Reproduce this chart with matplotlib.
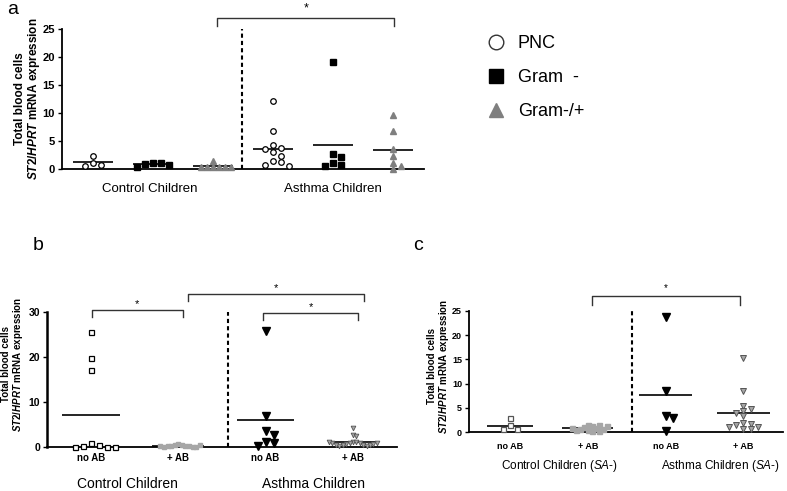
import numpy as np
import matplotlib
matplotlib.use("Agg")
import matplotlib.pyplot as plt
from matplotlib.lines import Line2D

plt.rcParams["font.family"] = ["Liberation Sans", "DejaVu Sans"]
plt.rcParams["mathtext.fontset"] = "custom"
plt.rcParams["mathtext.rm"] = "Liberation Sans:bold"
plt.rcParams["mathtext.it"] = "Liberation Sans:bold:italic"
plt.rcParams["mathtext.bf"] = "Liberation Sans:bold"
plt.rcParams["mathtext.sf"] = "Liberation Sans:italic"

# ---- data ----
# panel a : Control children / Asthma children, by bacteria type
a_ctrl_pnc = [2.3, 1.1, 0.8, 0.5]
a_ctrl_gneg = [1.1, 1.1, 0.85, 0.8, 0.3]
a_ctrl_gmix = [1.5, 0.4, 0.4, 0.4, 0.4, 0.4, 0.4]
a_asth_pnc = [12.1, 6.8, 4.2, 3.8, 3.5, 3.1, 2.4, 1.4, 1.2, 0.8, 0.5]
a_asth_gneg = [19.1, 2.6, 2.1, 1.1, 0.8, 0.5]
a_asth_gmix = [9.6, 6.8, 3.5, 2.3, 1.0, 0.5, 0.0]

# panel b : no AB / + AB
b_ctrl_noab = [25.6, 19.8, 17.1, 1.0, 0.4, 0.2, 0.1, 0.1, 0.1]
b_ctrl_ab = [0.6, 0.5, 0.4, 0.3, 0.3, 0.2, 0.2, 0.1, 0.1, 0.1, 0.2, 0.4]
b_asth_noab = [25.8, 6.9, 3.6, 2.7, 1.2, 1.0, 0.2]
b_asth_ab = [4.3, 2.6, 2.4, 1.2, 1.1, 1.0, 0.8, 0.6, 0.5, 0.4, 0.3, 0.3,
             0.4, 0.5, 0.6, 0.8, 1.0, 1.2]

# panel c : SA- subgroup
c_ctrl_noab = [2.8, 1.4, 0.55, 0.55]
c_ctrl_ab = [1.5, 1.3, 1.1, 0.9, 0.6, 0.4, 0.3, 0.3, 0.4, 0.6, 0.9, 1.2, 1.5]
c_asth_noab = [23.8, 8.5, 3.3, 2.8, 0.2]
c_asth_ab = [15.2, 8.5, 5.4, 4.75, 4.4, 4.0, 3.4, 1.9, 1.6, 1.4, 1.1, 1.1, 0.6, 0.6]

tick_labels_bc = ["no AB", "+ AB", "no AB", "+ AB"]

W, H = 787, 491
GREY = "#7f7f7f"
LGREY = "#a6a6a6"


def px(x, y):
    return x / W, 1 - y / H


def swarm(vals, step, gap):
    # simple grid beeswarm: offsets in units of `step`
    placed, offs = [], []
    for v in vals:
        k = 0
        pos = None
        while pos is None:
            for c in ([0] if k == 0 else [k, -k]):
                if all(abs(c - pc) >= 1 or abs(v - pv) >= gap for pc, pv in placed):
                    pos = c
                    break
            k += 1
        placed.append((pos, v))
        offs.append(pos * step)
    return np.array(offs)


def group(ax, xc, vals, step, gap, half, **kw):
    x = xc + swarm(vals, step, gap)
    ax.plot(x, vals, linestyle="none", clip_on=False, zorder=3, **kw)
    ax.hlines(np.mean(vals), xc - half, xc + half, color="black", lw=1.2, zorder=2)


def style(ax, ymax, yticks, fs):
    ax.set_ylim(0, ymax)
    ax.set_yticks(yticks)
    for s in ["top", "right"]:
        ax.spines[s].set_visible(False)
    ax.spines["left"].set_linewidth(1.3)
    ax.spines["bottom"].set_linewidth(1.3)
    ax.tick_params(axis="y", direction="out", length=3, width=1, labelsize=fs, pad=2)
    ax.tick_params(axis="x", length=0)
    for t in ax.get_yticklabels():
        t.set_fontweight("bold")


def bracket(ax, x1, x2, y, leg, star_y, fs=8):
    ax.plot([x1, x1, x2, x2], [y - leg, y, y, y - leg], color="#333333", lw=1,
            clip_on=False)
    ax.text((x1 + x2) / 2, star_y, "*", ha="center", va="center", fontsize=fs,
            clip_on=False)


ylab = "Total blood cells\n$ST2/HPRT$ mRNA expression"

fig = plt.figure(figsize=(W / 100, H / 100), dpi=100)

# ---------------- panel a ----------------
ax = fig.add_axes([62 / W, 1 - 169 / H, 362 / W, 140 / H])
style(ax, 25, [0, 5, 10, 15, 20, 25], 8)
ax.set_xlim(0.483, 6.517)
ax.set_xticks([])
st, gp, hf = 0.133, 0.9, 0.333
circ = dict(marker="o", ms=4, mfc="white", mec="black", mew=0.9)
sq = dict(marker="s", ms=4.2, mfc="black", mec="black")
tri = dict(marker="^", ms=4.2, mfc=GREY, mec=GREY)
group(ax, 1, a_ctrl_pnc, st, gp, hf, **circ)
group(ax, 2, a_ctrl_gneg, st, gp, hf, **sq)
group(ax, 3, a_ctrl_gmix, 0.1, gp, hf, **tri)
group(ax, 4, a_asth_pnc, st, gp, hf, **circ)
group(ax, 5, a_asth_gneg, st, gp, hf, **sq)
group(ax, 6, a_asth_gmix, st, gp, hf, **tri)
ax.axvline(3.483, color="black", lw=1.5, ls=(0, (2, 1.5)))
bracket(ax, 3.07, 6.02, 27.0, 1.5, 28.7, 9)
fig.text(*px(28, 99), ylab, rotation=90, ha="center", va="center",
         fontsize=8.5, fontweight="bold", multialignment="center", linespacing=1.0)
fig.text(*px(150, 189), "Control Children", ha="center", va="center", fontsize=9.5)
fig.text(*px(333, 189), "Asthma Children", ha="center", va="center", fontsize=9.5)
fig.text(*px(13, 9), "a", ha="center", va="center", fontsize=14)

# legend
handles = [Line2D([], [], ls="none", marker="o", ms=10.5, mfc="white", mec="#333333", mew=1),
           Line2D([], [], ls="none", marker="s", ms=10.5, mfc="black", mec="black"),
           Line2D([], [], ls="none", marker="^", ms=10.5, mfc=GREY, mec=GREY)]
fig.legend(handles, ["PNC", "Gram  -", "Gram-/+"], loc="upper left",
           bbox_to_anchor=px(478, 26), frameon=False, fontsize=13,
           handlelength=1.0, handletextpad=0.7, labelspacing=0.95, borderpad=0)

# ---------------- panel b ----------------
ax = fig.add_axes([47 / W, 1 - 447 / H, 350 / W, 135 / H])
style(ax, 30, [0, 10, 20, 30], 7.5)
ax.spines["left"].set_linewidth(1.8)
ax.set_xlim(0.496, 4.505)
ax.set_xticks([1, 2, 3, 4])
ax.set_xticklabels(tick_labels_bc, fontsize=7, fontweight="bold")
ax.tick_params(axis="x", pad=4)
osq = dict(marker="s", ms=3.6, mfc="white", mec="black", mew=0.9)
gsq = dict(marker="s", ms=3.4, mfc=LGREY, mec=LGREY)
btri = dict(marker="v", ms=5.2, mfc="black", mec="black")
gtri = dict(marker="v", ms=3.4, mfc=LGREY, mec="#555555", mew=0.6)
group(ax, 1, b_ctrl_noab, 0.092, 1.1, 0.33, **osq)
group(ax, 2, b_ctrl_ab, 0.041, 1.1, 0.30, **gsq)
group(ax, 3, b_asth_noab, 0.092, 1.3, 0.33, **btri)
group(ax, 4, b_asth_ab, 0.039, 1.1, 0.28, **gtri)
ax.axvline(2.57, color="black", lw=1.5, ls=(0, (2, 1.5)))
bracket(ax, 1.01, 2.05, 30.4, 1.6, 31.8)
bracket(ax, 2.11, 4.13, 34.0, 1.6, 35.4)
bracket(ax, 2.97, 4.06, 29.8, 1.6, 31.2)
fig.text(*px(13, 364), ylab, rotation=90, ha="center", va="center",
         fontsize=7, fontweight="bold", multialignment="center", linespacing=0.95)
fig.text(*px(127, 484), "Control Children", ha="center", va="center", fontsize=10)
fig.text(*px(313, 484), "Asthma Children", ha="center", va="center", fontsize=10)
fig.text(*px(38, 245), "b", ha="center", va="center", fontsize=14)

# ---------------- panel c ----------------
ax = fig.add_axes([469 / W, 1 - 432 / H, 314 / W, 121 / H])
style(ax, 25, [0, 5, 10, 15, 20, 25], 6.5)
ax.set_xlim(0.472, 4.51)
ax.set_xticks([1, 2, 3, 4])
ax.set_xticklabels(tick_labels_bc, fontsize=6.5, fontweight="bold")
ax.tick_params(axis="x", pad=7)
osq_c = dict(marker="s", ms=3.6, mfc="white", mec="#555555", mew=0.9)
gsq_c = dict(marker="s", ms=3.6, mfc=LGREY, mec=LGREY)
btri_c = dict(marker="v", ms=5.6, mfc="black", mec="black")
gtri_c = dict(marker="v", ms=4.0, mfc=LGREY, mec="#555555", mew=0.7)
group(ax, 1, c_ctrl_noab, 0.09, 1.0, 0.30, **osq_c)
group(ax, 2, c_ctrl_ab, 0.05, 1.0, 0.33, **gsq_c)
group(ax, 3, c_asth_noab, 0.1, 1.2, 0.34, **btri_c)
group(ax, 4, c_asth_ab, 0.094, 0.85, 0.34, **gtri_c)
ax.axvline(2.57, color="black", lw=1.5, ls=(0, (2, 1.5)))
bracket(ax, 2.055, 3.96, 28.1, 1.9, 29.8, 7)
fig.text(*px(439, 366), ylab, rotation=90, ha="center", va="center",
         fontsize=7, fontweight="bold", multialignment="center", linespacing=1.0)
fig.text(*px(559, 466), "Control Children ($\\mathsf{SA}$-)", ha="center",
         va="center", fontsize=8.5)
fig.text(*px(720, 466), "Asthma Children ($\\mathsf{SA}$-)", ha="center",
         va="center", fontsize=8.5)
fig.text(*px(418, 245), "c", ha="center", va="center", fontsize=14)

fig.savefig("out.png", dpi=100)
